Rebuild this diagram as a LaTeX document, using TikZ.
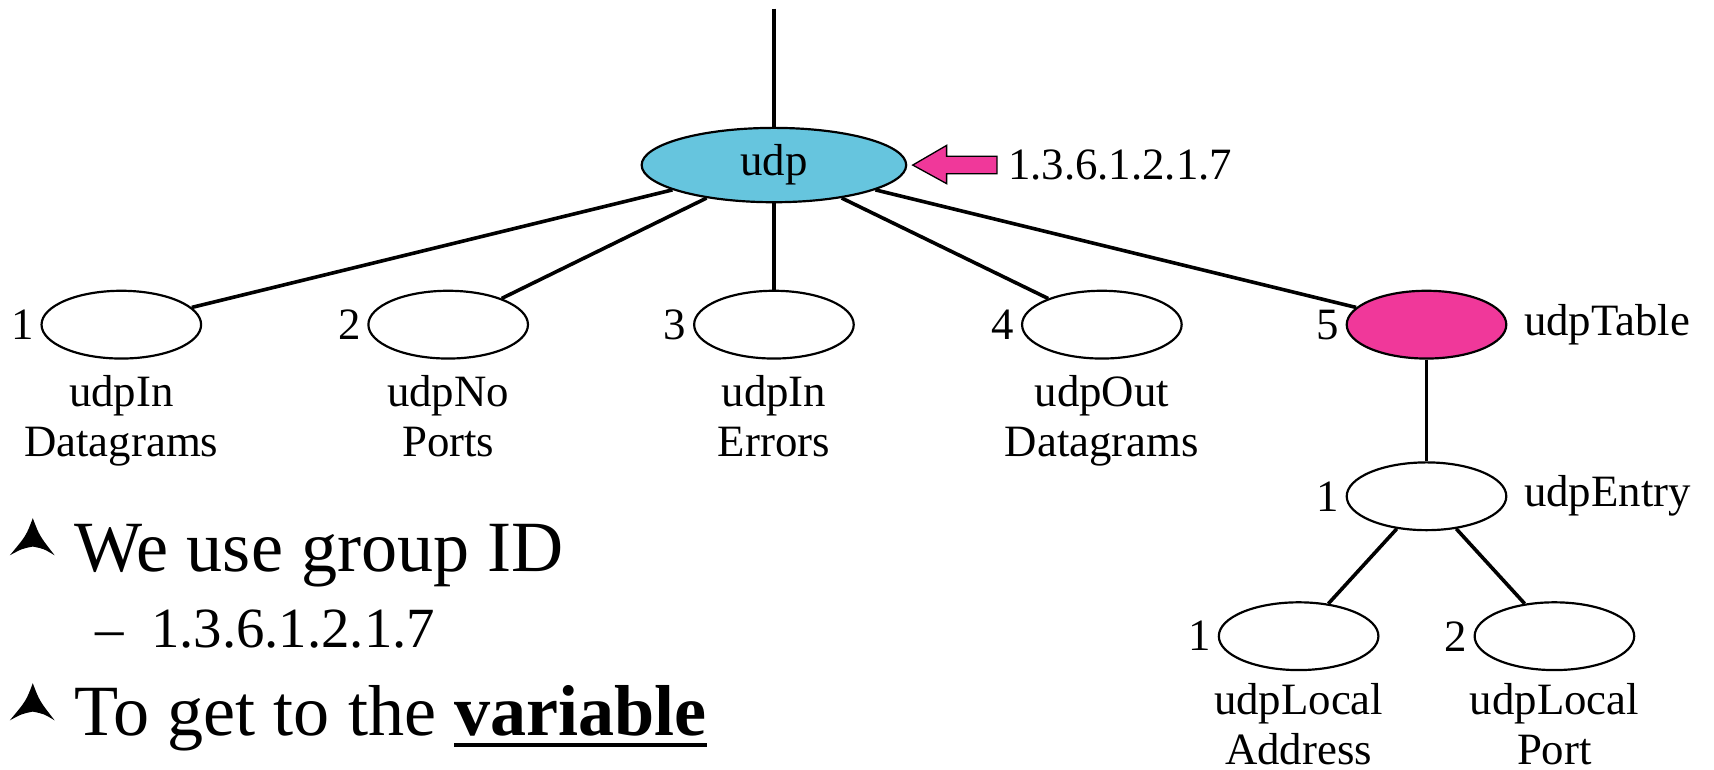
\documentclass[tikz,border=0pt]{standalone}
\usepackage{fontspec}
\setmainfont{Liberation Serif}
\usetikzlibrary{shapes.geometric}
\definecolor{udpcyan}{HTML}{66C5DE}
\definecolor{tablepink}{HTML}{F0389A}
% thick underline just below the baseline
\newcommand\deepunder[1]{\setbox0\hbox{#1}\rlap{\rule[-10pt]{\wd0}{3.5pt}}\box0}
\begin{document}
\begin{tikzpicture}[x=1pt,y=-1pt,
  oid/.style={ellipse,draw=black,line width=2pt,minimum width=146pt,minimum height=62pt,inner sep=0pt},
  edge/.style={line width=3.3pt},
  tag/.style={font=\fontsize{41}{46}\selectfont,inner sep=0pt},
  numl/.style={tag,label distance=6pt},
  namel/.style={tag,label distance=15pt},
  caption/.style={tag,align=center,anchor=north},
  bullet/.style={font=\fontsize{66}{70}\selectfont,inner sep=0pt,anchor=base west},
  subbullet/.style={font=\fontsize{52}{60}\selectfont,inner sep=0pt,anchor=base west},
  bulletmark/.style={fill=black}
]
\useasboundingbox (0,0) rectangle (1568,704);

% root of the udp group
\coordinate (top) at (708,8);
\node[oid,fill=udpcyan,minimum width=242pt,minimum height=68pt,font=\fontsize{41}{46}\selectfont] (udp) at (708,151) {udp};
\draw[edge] (top) -- (udp);

% pointer to the group OID
\draw[line width=1.2pt,fill=tablepink] (835,151) -- (866,133) -- (866,143) -- (912,143)
  -- (912,159) -- (866,159) -- (866,168) -- cycle;
\node[tag,anchor=west] (oidtext) at (922,151) {1.3.6.1.2.1.7};

% first level objects
\node[oid,label={[numl]left:1}] (c1) at (111,297) {};
\node[oid,label={[numl]left:2}] (c2) at (410,297) {};
\node[oid,label={[numl]left:3}] (c3) at (708,297) {};
\node[oid,label={[numl]left:4}] (c4) at (1008,297) {};
\node[oid,fill=tablepink,label={[numl]left:5},label={[namel]right:udpTable}] (c5) at (1305,297) {};

\foreach \c in {c1,c2,c3,c4,c5} \draw[edge] (udp) -- (\c);

\node[caption] (n1) at (111,343) {udpIn\\Datagrams};
\node[caption] (n2) at (410,343) {udpNo\\Ports};
\node[caption] (n3) at (708,343) {udpIn\\Errors};
\node[caption] (n4) at (1008,343) {udpOut\\Datagrams};

% table entry and its columns
\node[oid,label={[numl]left:1},label={[namel]right:udpEntry}] (entry) at (1305,454) {};
\draw[edge] (c5) -- (entry);

\node[oid,label={[numl]left:1}] (addr) at (1188,582) {};
\node[oid,label={[numl]left:2}] (port) at (1422,582) {};
\draw[edge] (entry) -- (addr);
\draw[edge] (entry) -- (port);

\node[caption] (n6) at (1188,625) {udpLocal\\Address};
\node[caption] (n7) at (1422,625) {udpLocal\\Port};

% bullet points
\fill[bulletmark] (30,474) .. controls (36,490) .. (50,508) .. controls (40,502) .. (30,500)
  .. controls (20,502) .. (9,508) .. controls (24,490) .. cycle;
\node[bullet] (b1) at (68,523) {We use group ID};
\node[subbullet] (b2) at (87,592) {–\hspace{25pt}1.3.6.1.2.1.7};
\fill[bulletmark] (30,625) .. controls (36,641) .. (50,659) .. controls (40,653) .. (30,651)
  .. controls (20,653) .. (9,659) .. controls (24,641) .. cycle;
\node[bullet] (b3) at (68,673) {To get to the \deepunder{\textbf{variable}}};
\end{tikzpicture}
\end{document}
